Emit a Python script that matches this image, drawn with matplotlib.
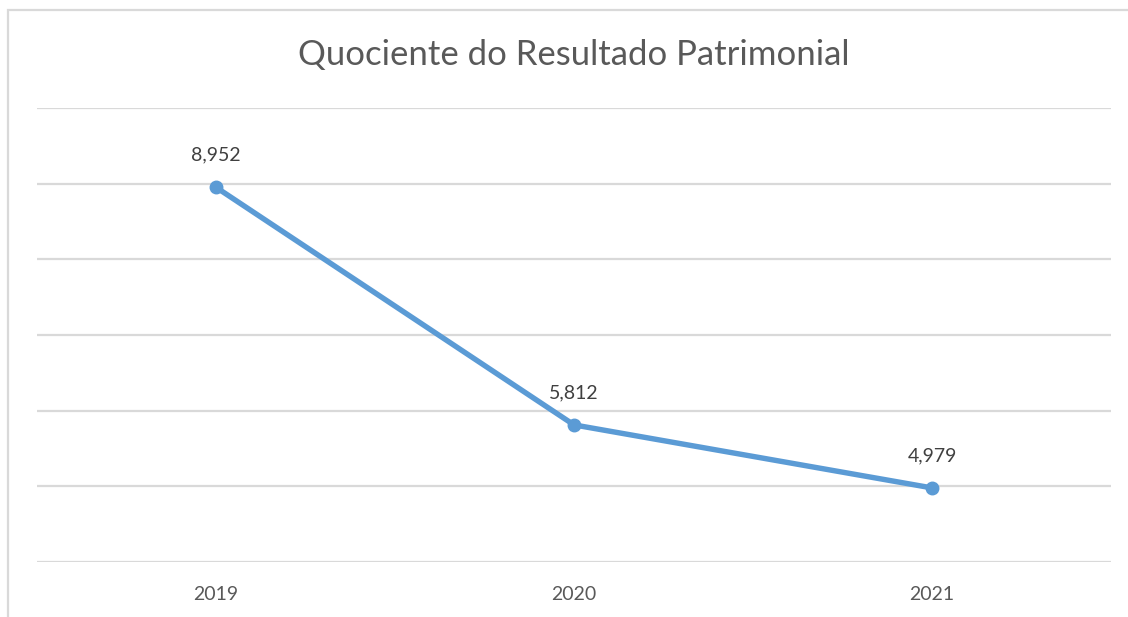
import matplotlib.pyplot as plt
from matplotlib.patches import Rectangle

years = ["2019", "2020", "2021"]
values = [8.952, 5.812, 4.979]
labels = ["8,952", "5,812", "4,979"]

plt.rcParams['font.family'] = ['Lato', 'DejaVu Sans']

fig = plt.figure(figsize=(11.28, 6.17), dpi=100)
ax = fig.add_axes([37 / 1128, 1 - 562 / 617, (1111 - 37) / 1128, (562 - 108) / 617])

x = list(range(len(years)))
ax.plot(x, values, color='#5B9BD5', linewidth=3.9, marker='o', markersize=9,
        solid_capstyle='round', zorder=3)

for xi, v, lab in zip(x, values, labels):
    ax.annotate(lab, (xi, v), xytext=(0, 23), textcoords='offset points',
                ha='center', va='center', fontsize=14, color='#404040')

ax.set_xlim(-0.5, 2.5)
ax.set_ylim(4, 10)
ax.set_yticks(range(4, 11))
ax.set_yticklabels([])
ax.set_xticks(x)
ax.set_xticklabels(years, fontsize=14, color='#595959')
ax.tick_params(axis='both', length=0)
ax.tick_params(axis='x', pad=17)
ax.grid(axis='y', color='#D9D9D9', linewidth=1.6)
ax.set_axisbelow(True)
for s in ax.spines.values():
    s.set_visible(False)

fig.text(574 / 1128, 1 - 55 / 617, "Quociente do Resultado Patrimonial",
         ha='center', va='center', fontsize=25, color='#595959')

# chart border (cut off on right and bottom in the reference)
fig.patches.append(Rectangle((8 / 1128, -0.1), 1.2, 1 - 9.5 / 617 + 0.1,
                             transform=fig.transFigure, fill=False,
                             edgecolor='#D9D9D9', linewidth=1.6))

fig.savefig('out.png', dpi=100)
